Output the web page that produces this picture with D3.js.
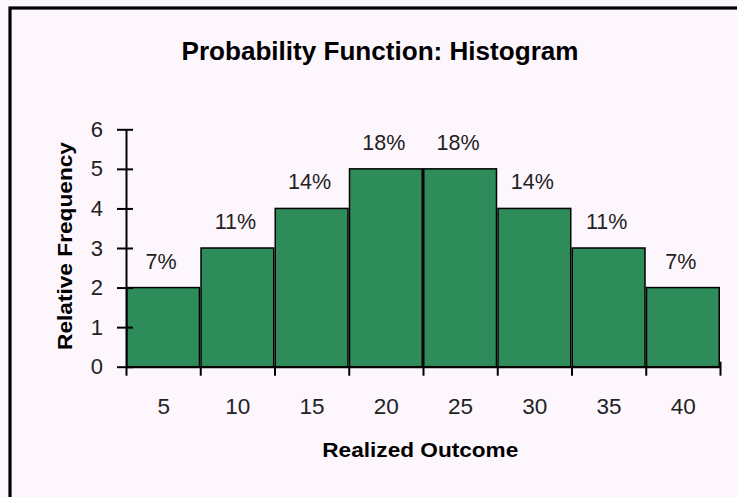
<!DOCTYPE html>
<html>
<head>
<meta charset="utf-8">
<script src="https://cdn.jsdelivr.net/npm/d3@7"></script>
<style>
  body { margin: 0; background: #fdf6fc; }
  svg { display: block; font-family: "Liberation Sans", Arial, sans-serif; }
</style>
</head>
<body>
<div class="chart"></div>
<script>
// chart values
const outcomes = [5, 10, 15, 20, 25, 30, 35, 40];
const frequency = [2, 3, 4, 5, 5, 4, 3, 2];
const pctLabels = ["7%", "11%", "14%", "18%", "18%", "14%", "11%", "7%"];
const yTicks = [0, 1, 2, 3, 4, 5, 6];
const binWidth = 5;

const width = 737, height = 497;
const plot = {left: 126, right: 720, top: 129.3, bottom: 366.7};

const svg = d3.select('.chart')
    .append('svg')
    .attr('width', width)
    .attr('height', height);

svg.append('rect')
    .attr('width', width).attr('height', height)
    .attr('fill', '#fdf6fc');

// frame (only top and left edges show, the rest is cut off)
svg.append('rect')
    .attr('x', 10).attr('y', 8)
    .attr('width', width + 20).attr('height', height + 20)
    .attr('fill', 'none')
    .attr('stroke', '#000')
    .attr('stroke-width', 3.2);

const xScale = d3.scaleLinear()
    .domain([outcomes[0] - binWidth / 2, outcomes[outcomes.length - 1] + binWidth / 2])
    .range([plot.left, plot.right]);

const yScale = d3.scaleLinear()
    .domain([0, 6])
    .range([plot.bottom, plot.top]);

const bins = outcomes.map((d, i) => ({x: d, f: frequency[i], label: pctLabels[i]}));

// bars
svg.append('g').selectAll('rect')
    .data(bins)
    .enter()
    .append('rect')
    .attr('x', d => xScale(d.x - binWidth / 2) + 0.75)
    .attr('width', d => xScale(d.x + binWidth / 2) - xScale(d.x - binWidth / 2) - 1.5)
    .attr('y', d => yScale(d.f))
    .attr('height', d => yScale(0) - yScale(d.f))
    .attr('fill', '#2e8b5a')
    .attr('stroke', '#000')
    .attr('stroke-width', 1.5);

// percent labels
svg.append('g').selectAll('text')
    .data(bins)
    .enter()
    .append('text')
    .attr('x', d => xScale(d.x) - 2)
    .attr('y', d => yScale(d.f) - 19)
    .attr('text-anchor', 'middle')
    .attr('font-size', 21.5)
    .attr('fill', '#222')
    .text(d => d.label);

// x axis: ticks at bin edges
const edges = outcomes.map(d => d - binWidth / 2).concat([outcomes[outcomes.length - 1] + binWidth / 2]);
const xAxis = d3.axisBottom(xScale)
    .tickValues(edges)
    .tickSizeInner(9)
    .tickSizeOuter(0)
    .tickFormat('');
const xAxisG = svg.append('g')
    .attr('transform', `translate(0, ${plot.bottom})`)
    .call(xAxis);
xAxisG.select('.domain').attr('stroke', '#000').attr('stroke-width', 2);
xAxisG.selectAll('.tick line').attr('stroke', '#000').attr('stroke-width', 2);
xAxisG.select('.tick:last-of-type line').attr('y1', -5);

// x labels at bin centres
const xLabels = d3.axisBottom(xScale)
    .tickValues(outcomes)
    .tickSize(0)
    .tickPadding(0)
    .tickFormat(d3.format('d'));
const xLabG = svg.append('g')
    .attr('transform', `translate(0, ${plot.bottom})`)
    .call(xLabels);
xLabG.select('.domain').remove();
xLabG.selectAll('text')
    .attr('y', 47.5)
    .attr('dy', null)
    .attr('font-size', 22.5)
    .attr('font-family', '"Liberation Sans", Arial, sans-serif')
    .attr('fill', '#222');

// y axis
const yAxis = d3.axisLeft(yScale)
    .tickValues(yTicks)
    .tickSizeInner(8)
    .tickSizeOuter(0)
    .tickPadding(15)
    .tickFormat(d3.format('d'));
const yAxisG = svg.append('g')
    .attr('transform', `translate(${plot.left}, 0)`)
    .call(yAxis);
yAxisG.select('.domain').attr('stroke', '#000').attr('stroke-width', 2);
yAxisG.selectAll('.tick line')
    .attr('x1', 7)
    .attr('x2', -9)
    .attr('stroke', '#000')
    .attr('stroke-width', 2);
yAxisG.selectAll('text')
    .attr('x', -23)
    .attr('font-size', 22)
    .attr('font-family', '"Liberation Sans", Arial, sans-serif')
    .attr('fill', '#222');

// titles
svg.append('text')
    .attr('x', 380)
    .attr('y', 59.5)
    .attr('text-anchor', 'middle')
    .attr('font-size', 25)
    .attr('font-weight', 'bold')
    .attr('textLength', 397)
    .attr('lengthAdjust', 'spacingAndGlyphs')
    .text('Probability Function: Histogram');

svg.append('text')
    .attr('x', 420.3)
    .attr('y', 456.5)
    .attr('text-anchor', 'middle')
    .attr('font-size', 21)
    .attr('font-weight', 'bold')
    .attr('textLength', 196)
    .attr('lengthAdjust', 'spacingAndGlyphs')
    .text('Realized Outcome');

svg.append('text')
    .attr('transform', 'translate(71.5, 246) rotate(-90)')
    .attr('text-anchor', 'middle')
    .attr('font-size', 21)
    .attr('font-weight', 'bold')
    .attr('textLength', 208)
    .attr('lengthAdjust', 'spacingAndGlyphs')
    .text('Relative Frequency');
</script>
</body>
</html>
